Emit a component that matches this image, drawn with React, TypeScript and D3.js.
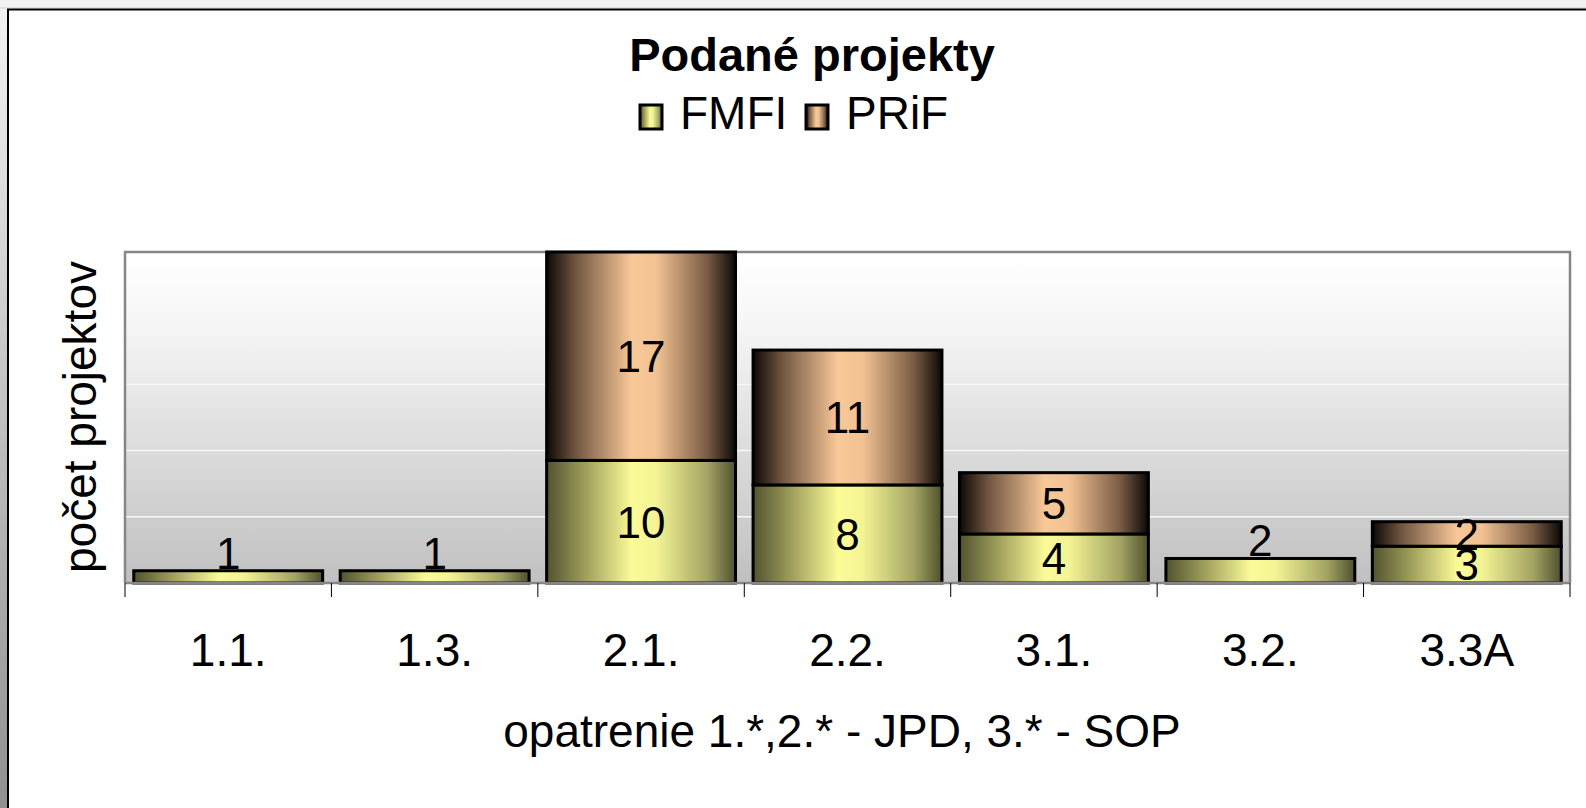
import React from "react";
import * as d3 from "d3";

const categories = ["1.1.", "1.3.", "2.1.", "2.2.", "3.1.", "3.2.", "3.3A"];
const fmfi = [1, 1, 10, 8, 4, 2, 3];
const prif = [0, 0, 17, 11, 5, 0, 2];
const seriesNames = ["FMFI", "PRiF"];
const gridValues = [5.4, 10.8, 16.2, 21.6, 27];

const W = 1586;
const H = 808;
const plot = { left: 125, right: 1570, top: 252, bottom: 583 };
const font = "'Liberation Sans', Arial, sans-serif";
const fs = 46; // axis texts
const vfs = 44; // value labels

export default function App() {
  const x = d3
    .scaleBand()
    .domain(categories)
    .range([plot.left, plot.right])
    .paddingInner(0.085)
    .paddingOuter(0.0425);
  const y = d3.scaleLinear().domain([0, 27]).range([plot.bottom, plot.top]);

  const rows = categories.map((c, i) => ({ cat: c, FMFI: fmfi[i], PRiF: prif[i] }));
  const stacked = d3.stack<any>().keys(seriesNames)(rows);

  const fills = ["url(#gFmfi)", "url(#gPrif)"];
  const step = x.step();
  const ticks = d3.range(categories.length + 1).map((i) => plot.left + i * step);

  return (
    <svg width={W} height={H} style={{ position: "fixed", left: 0, top: 0 }} fontFamily={font}>
      <defs>
        <linearGradient id="gFmfi" x1="0" x2="1" y1="0" y2="0">
          <stop offset="0" stopColor="#525230" />
          <stop offset="0.15" stopColor="#8a8a50" />
          <stop offset="0.45" stopColor="#fbfb98" />
          <stop offset="0.58" stopColor="#f4f494" />
          <stop offset="0.85" stopColor="#a4a464" />
          <stop offset="1" stopColor="#50502e" />
        </linearGradient>
        <linearGradient id="gPrif" x1="0" x2="1" y1="0" y2="0">
          <stop offset="0" stopColor="#0c0805" />
          <stop offset="0.15" stopColor="#6e5440" />
          <stop offset="0.45" stopColor="#f9c899" />
          <stop offset="0.58" stopColor="#f3c293" />
          <stop offset="0.85" stopColor="#7a5c44" />
          <stop offset="1" stopColor="#0c0805" />
        </linearGradient>
        <linearGradient id="gPlot" x1="0" x2="0" y1="0" y2="1">
          <stop offset="0" stopColor="#ffffff" />
          <stop offset="0.2" stopColor="#f7f7f7" />
          <stop offset="0.45" stopColor="#e6e6e6" />
          <stop offset="1" stopColor="#c0c0c0" />
        </linearGradient>
        <linearGradient id="gSide" x1="0" x2="0" y1="0" y2="1">
          <stop offset="0" stopColor="#f2f2f2" />
          <stop offset="0.35" stopColor="#d0d0d0" />
          <stop offset="1" stopColor="#909090" />
        </linearGradient>
      </defs>

      {/* outer frame */}
      <rect x={0} y={0} width={W} height={H} fill="#f2f2f2" />
      <rect x={0} y={9} width={8} height={H - 9} fill="url(#gSide)" />
      <rect x={8} y={9} width={W} height={H} fill="#fff" />
      <line x1={0} x2={W} y1={8} y2={8} stroke="#d0d0d0" />
      <path d={`M8,${H} V9.5 H${W}`} fill="none" stroke="#000" strokeWidth={2} />

      {/* title + legend */}
      <text x={812} y={71} textAnchor="middle" fontWeight="bold" fontSize={47}>
        Podané projekty
      </text>
      {seriesNames.map((s, i) => (
        <g key={s} transform={`translate(${640 + i * 166},0)`}>
          <rect x={0} y={105} width={22} height={24} fill={fills[i]} stroke="#000" strokeWidth={3} />
          <text x={40} y={129} fontSize={46}>
            {s}
          </text>
        </g>
      ))}

      {/* plot area */}
      <rect x={plot.left} y={plot.top} width={plot.right - plot.left} height={plot.bottom - plot.top} fill="url(#gPlot)" />
      {gridValues.map((g) => (
        <line key={g} x1={plot.left} x2={plot.right} y1={y(g)} y2={y(g)} stroke="#f8f8f8" strokeWidth={1.5} />
      ))}
      <path
        d={`M${plot.left},${plot.bottom} V${plot.top} H${plot.right} V${plot.bottom}`}
        fill="none"
        stroke="#868686"
        strokeWidth={2.5}
      />

      {/* bars */}
      {stacked.map((layer, si) =>
        layer.map((d, i) =>
          d[1] - d[0] > 0 ? (
            <rect
              key={`${si}-${i}`}
              x={x(categories[i])!}
              y={y(d[1])}
              width={x.bandwidth()}
              height={y(d[0]) - y(d[1])}
              fill={fills[si]}
              stroke="#000"
              strokeWidth={3}
            />
          ) : null
        )
      )}

      {/* value labels: centred, or on top of a thin single-segment column */}
      {stacked.map((layer, si) =>
        layer.map((d, i) => {
          const v = d[1] - d[0];
          if (v <= 0) return null;
          const h = y(d[0]) - y(d[1]);
          const single = fmfi[i] === 0 || prif[i] === 0;
          const cx = x(categories[i])! + x.bandwidth() / 2;
          const base = single && h < 34 ? y(d[1]) - 2 : (y(d[0]) + y(d[1])) / 2 + vfs * 0.36;
          return (
            <text key={`l${si}-${i}`} x={cx} y={base} textAnchor="middle" fontSize={vfs}>
              {v}
            </text>
          );
        })
      )}

      {/* x axis */}
      <line x1={plot.left} x2={plot.right} y1={plot.bottom} y2={plot.bottom} stroke="#868686" strokeWidth={2.5} />
      {ticks.map((t, i) => (
        <line key={i} x1={t} x2={t} y1={plot.bottom} y2={plot.bottom + 14} stroke="#000" strokeWidth={1} />
      ))}
      {categories.map((c) => (
        <text key={c} x={x(c)! + x.bandwidth() / 2} y={666} textAnchor="middle" fontSize={fs}>
          {c}
        </text>
      ))}
      <text x={842} y={747} textAnchor="middle" fontSize={fs}>
        opatrenie 1.*,2.* - JPD, 3.* - SOP
      </text>
      <text transform={`translate(96,417) rotate(-90)`} textAnchor="middle" fontSize={fs}>
        počet projektov
      </text>
    </svg>
  );
}
